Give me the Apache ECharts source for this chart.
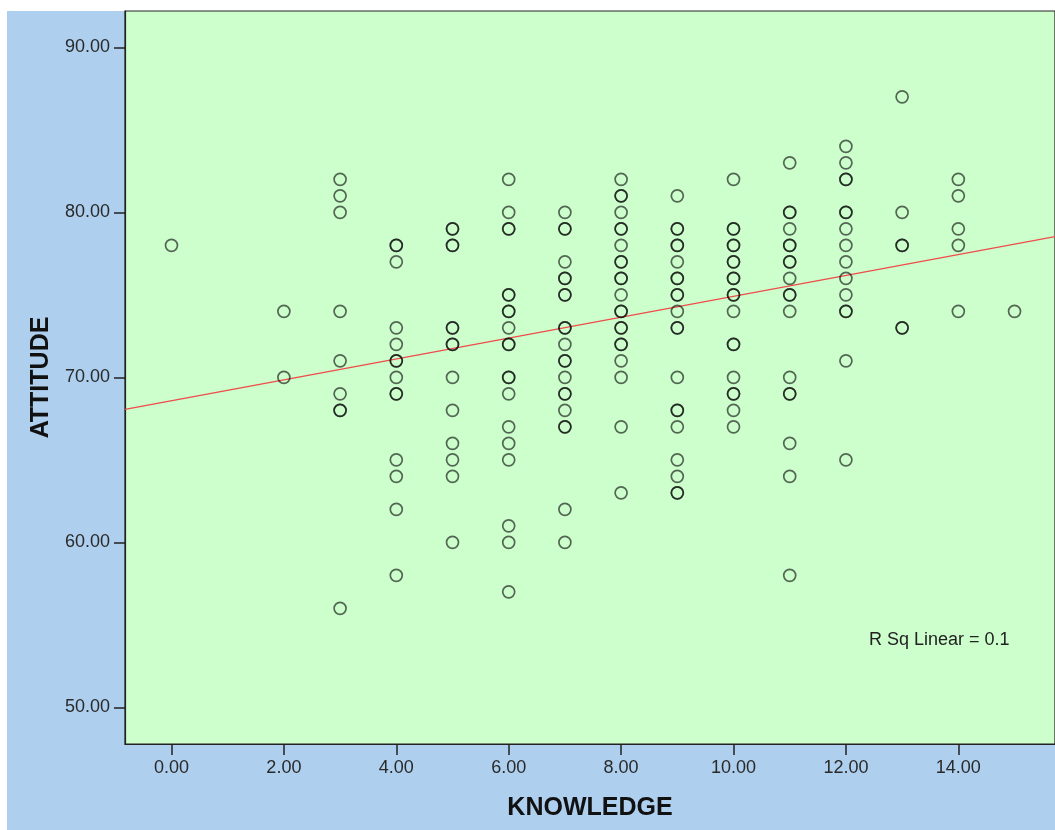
<!DOCTYPE html>
<html>
<head>
<meta charset="utf-8">
<script src="https://cdn.jsdelivr.net/npm/echarts@6/dist/echarts.min.js"></script>
<style>
  html, body { margin: 0; padding: 0; background: #ffffff; }
  #bg { position: absolute; left: 7px; top: 11px; right: 0; bottom: 0; background: #aecfee; }
  #chart { position: absolute; left: 0; top: 0; width: 1055px; height: 830px; }
</style>
</head>
<body>
<div id="bg"></div>
<div id="chart"></div>
<script>
// knowledge score for each column of points
const knowledge = [0, 2, 3, 4, 5, 6, 7, 8, 9, 10, 11, 12, 13, 14, 15];

// attitude scores per knowledge column (repeated value = overlapping points)
const attitude = [
  [78],
  [74, 70],
  [82, 81, 80, 74, 71, 69, 68, 68, 56],
  [78, 78, 77, 73, 72, 71, 71, 70, 69, 69, 65, 64, 62, 58],
  [79, 79, 78, 78, 73, 73, 72, 72, 70, 68, 66, 65, 64, 60],
  [82, 80, 79, 79, 75, 75, 74, 74, 73, 72, 72, 70, 70, 69, 67, 66, 65, 61, 60, 57],
  [80, 79, 79, 77, 76, 76, 75, 75, 73, 73, 72, 71, 71, 70, 69, 69, 68, 67, 67, 62, 60],
  [82, 81, 81, 80, 79, 79, 78, 77, 77, 76, 76, 75, 74, 74, 73, 73, 72, 72, 71, 70, 67, 63],
  [81, 79, 79, 78, 78, 77, 76, 76, 75, 75, 74, 73, 73, 70, 68, 68, 67, 65, 64, 63, 63],
  [82, 79, 79, 78, 78, 77, 77, 76, 76, 75, 75, 74, 72, 72, 70, 69, 69, 68, 67],
  [83, 80, 80, 79, 78, 78, 77, 77, 76, 75, 75, 74, 70, 69, 69, 66, 64, 58],
  [84, 83, 82, 82, 80, 80, 79, 78, 77, 76, 75, 74, 74, 71, 65],
  [87, 80, 78, 78, 73, 73],
  [82, 81, 79, 78, 74],
  [74]
];

// fit line
const fitIntercept = 68.58;
const fitSlope = 0.633;
const rSqText = 'R Sq Linear = 0.1';

const xTicks = [0, 2, 4, 6, 8, 10, 12, 14];
const yTicks = [50, 60, 70, 80, 90];
const xMin = -0.827, xMax = 15.72;
const yMin = 47.78, yMax = 92.2;

const points = [];
knowledge.forEach((k, i) => {
  attitude[i].forEach(a => points.push([k, a]));
});
const fitLine = [xMin, xMax].map(x => [x, fitIntercept + fitSlope * x]);

const font = '"Liberation Sans", Arial, sans-serif';
const chart = echarts.init(document.getElementById('chart'));
chart.setOption({
  animation: false,
  backgroundColor: 'transparent',
  grid: {
    left: 125, top: 11, right: -1, bottom: 86,
    show: true, backgroundColor: '#ccffcc', borderColor: '#222', borderWidth: 1.2
  },
  xAxis: {
    type: 'value', min: xMin, max: xMax,
    name: 'KNOWLEDGE', nameLocation: 'middle', nameGap: 52,
    nameTextStyle: { fontFamily: font, fontWeight: 'bold', fontSize: 25, color: '#111' },
    axisLine: { onZero: false, lineStyle: { color: '#222', width: 1.2 } },
    axisTick: { length: 11, lineStyle: { color: '#222', width: 1.5 }, customValues: xTicks },
    axisLabel: {
      margin: 15, fontFamily: font, fontSize: 18, color: '#2a2a2a',
      customValues: xTicks, formatter: v => v.toFixed(2)
    },
    splitLine: { show: false }
  },
  yAxis: {
    type: 'value', min: yMin, max: yMax,
    name: 'ATTITUDE', nameLocation: 'middle', nameGap: 68,
    nameTextStyle: { fontFamily: font, fontWeight: 'bold', fontSize: 25, color: '#111' },
    axisLine: { show: true, onZero: false, lineStyle: { color: '#222', width: 1.2 } },
    axisTick: { show: true, length: 11, lineStyle: { color: '#222', width: 1.5 }, customValues: yTicks },
    axisLabel: {
      margin: 15, fontFamily: font, fontSize: 18, color: '#2a2a2a',
      customValues: yTicks, formatter: v => v.toFixed(2)
    },
    splitLine: { show: false }
  },
  graphic: [{
    type: 'text', x: 869, y: 640,
    style: { text: rSqText, font: '18px ' + font, fill: '#222', verticalAlign: 'middle' }
  }],
  series: [
    {
      type: 'line',
      data: fitLine,
      symbol: 'none',
      silent: true,
      lineStyle: { color: '#f04a4a', width: 1.3 },
      z: 1
    },
    {
      type: 'scatter',
      data: points,
      symbol: 'circle',
      symbolSize: 12,
      itemStyle: { borderColor: 'rgba(10,10,10,0.78)', borderWidth: 1.7, color: 'rgba(0,0,0,0)' },
      z: 2
    }
  ]
});
</script>
</body>
</html>
